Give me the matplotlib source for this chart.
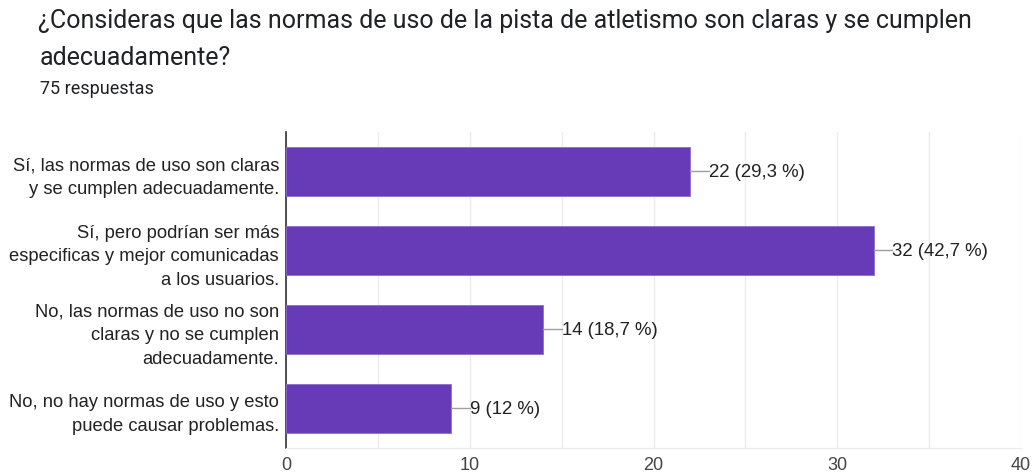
import matplotlib.pyplot as plt

plt.rcParams["font.family"] = ["Liberation Sans", "DejaVu Sans"]

categories = [
    "Sí, las normas de uso son claras\ny se cumplen adecuadamente.",
    "Sí, pero podrían ser más\nespecificas y mejor comunicadas\na los usuarios.",
    "No, las normas de uso no son\nclaras y no se cumplen\nadecuadamente.",
    "No, no hay normas de uso y esto\npuede causar problemas.",
]
counts = [22, 32, 14, 9]
percent_labels = ["29,3 %", "42,7 %", "18,7 %", "12 %"]
xticks = [0, 10, 20, 30, 40]

fig = plt.figure(figsize=(10.33, 4.77), dpi=100)
ax = fig.add_axes([0.2769, 0.0587, 0.7115, 0.6625])

y = range(len(categories))
ax.barh(y, counts, height=0.62, color="#673ab7", edgecolor="#8a6fcc", linewidth=0.6, zorder=3)

for i, (c, p) in enumerate(zip(counts, percent_labels)):
    ax.plot([c, c + 1.0], [i, i], color="#9e9e9e", lw=1, zorder=3)
    ax.text(c + 1.0, i, f"{c} ({p})", va="center", ha="left", fontsize=13.4, color="#222222")

ax.set_xlim(0, 40)
ax.set_ylim(3.5, -0.5)
ax.set_yticks(list(y))
ax.set_yticklabels(categories, fontsize=13.2, color="#222222", linespacing=1.5)
ax.set_xticks(xticks)
ax.set_xticklabels([str(t) for t in xticks], fontsize=13, color="#444444",
                   family=["Liberation Sans Narrow", "Liberation Sans"])
ax.set_xticks(range(0, 41, 5), minor=True)
ax.grid(axis="x", which="both", color="#ebebeb", lw=1, zorder=0)
ax.tick_params(axis="both", which="both", length=0)
ax.tick_params(axis="x", pad=6)
ax.tick_params(axis="y", pad=5)

for s in ["top", "right"]:
    ax.spines[s].set_visible(False)
ax.spines["bottom"].set_color("#ebebeb")
ax.spines["left"].set_color("#333333")
ax.spines["left"].set_linewidth(1.2)

title_font = ["Roboto", "DejaVu Sans"]
fig.text(38 / 1033, 1 - 21 / 477,
         "¿Consideras que las normas de uso de la pista de atletismo son claras y se cumplen",
         fontsize=18, color="#202124", va="center", ha="left", family=title_font)
fig.text(40 / 1033, 1 - 58 / 477, "adecuadamente?",
         fontsize=18, color="#202124", va="center", ha="left", family=title_font)
fig.text(40 / 1033, 1 - 89 / 477, "75 respuestas",
         fontsize=13, color="#202124", va="center", ha="left", family=title_font)

fig.savefig("out.png", dpi=100)
